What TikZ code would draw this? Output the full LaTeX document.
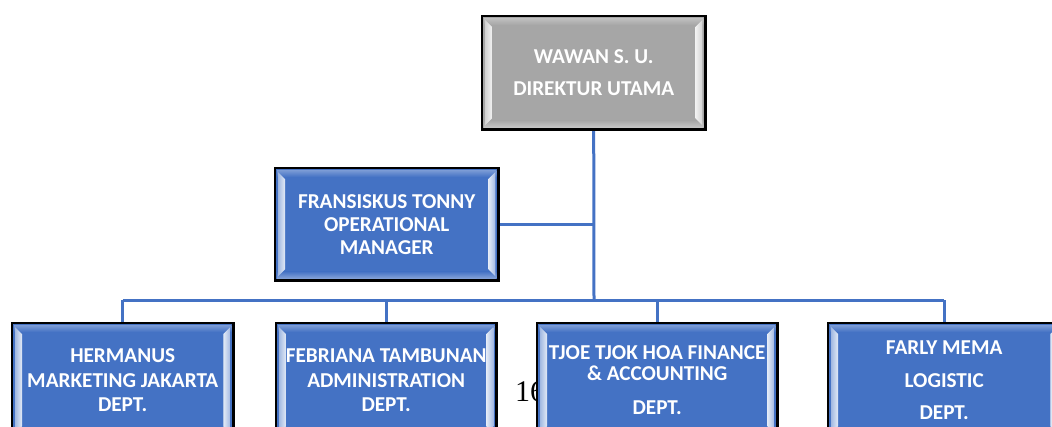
\documentclass[tikz,border=0pt]{standalone}
\usepackage{fontspec}
\setmainfont{Carlito}
\newfontfamily\pagefont{Liberation Serif}
\usetikzlibrary{calc}
\definecolor{boxblue}{RGB}{68,114,196}
\definecolor{boxgray}{RGB}{166,166,166}
\definecolor{linkblue}{RGB}{68,114,196}
\tikzset{
  orgbox/.style={anchor=north west, inner sep=0pt, draw=none, fill=#1},
  orglabel/.style={text=white, align=center, inner sep=0pt, font=\bfseries\fontsize{21.2}{23}\selectfont},
  conn/.style={draw=linkblue, line width=3pt},
  rim/.style={draw=black, line width=2.4pt}
}
\newcommand{\bevelfx}[2]{%
  \shade[top color=#2!70!white, bottom color=#2] ($(#1.north west)+(2,2)$) rectangle ($(#1.north east)+(-2,9)$);
  \shade[top color=#2, bottom color=#2!65!white] ($(#1.south west)+(2,-9)$) rectangle ($(#1.south east)+(-2,-2)$);
  \shade[left color=#2!50!white, right color=white!85!#2] ($(#1.north west)+(3,4)$) -- ($(#1.north west)+(10,11)$) -- ($(#1.south west)+(10,-11)$) -- ($(#1.south west)+(3,-4)$) -- cycle;
  \shade[left color=white!85!#2, right color=#2!50!white] ($(#1.north east)+(-3,4)$) -- ($(#1.north east)+(-10,11)$) -- ($(#1.south east)+(-10,-11)$) -- ($(#1.south east)+(-3,-4)$) -- cycle;
  \draw[rim] (#1.north west) rectangle (#1.south east);
}
\begin{document}
\begin{tikzpicture}[x=1pt,y=-1pt]
\useasboundingbox (0,0) rectangle (1052,426);
\clip (0,0) rectangle (1052,426);
% page number behind the box
\node[anchor=west, inner sep=0pt, font=\pagefont\fontsize{30}{30}\selectfont] (pagenum) at (515,392) {16};
% boxes
\node[orgbox=boxgray, minimum width=223pt, minimum height=113pt] (top) at (482,16) {};
\node[orgbox=boxblue, minimum width=223pt, minimum height=112pt] (ops) at (275,168) {};
\node[orgbox=boxblue, minimum width=221pt, minimum height=114pt] (herm) at (12,323) {};
\node[orgbox=boxblue, minimum width=220pt, minimum height=114pt] (febr) at (276,323) {};
\node[orgbox=boxblue, minimum width=240pt, minimum height=114pt] (tjoe) at (537,323) {};
\node[orgbox=boxblue, minimum width=232pt, minimum height=114pt] (farl) at (828,323) {};
% connectors
\coordinate (bus) at (594,300);
\draw[conn] (top.south) -- (bus);
\draw[conn] (ops.east) -- (ops.east -| top.south);
\draw[conn] (bus -| herm.north) -- (bus -| farl.north);
\draw[conn] (bus -| herm.north) -- (herm.north);
\draw[conn] (bus -| febr.north) -- (febr.north);
\draw[conn] (bus -| tjoe.north) -- (tjoe.north);
\draw[conn] (bus -| farl.north) -- (farl.north);
% bevels
\bevelfx{top}{boxgray}
\bevelfx{ops}{boxblue}
\bevelfx{herm}{boxblue}
\bevelfx{febr}{boxblue}
\bevelfx{tjoe}{boxblue}
\bevelfx{farl}{boxblue}
% labels
\node[orglabel] (top-t) at (top.center) {WAWAN S. U.\\[9pt]DIREKTUR UTAMA};
\node[orglabel] (ops-t) at (ops.center) {FRANSISKUS TONNY\\OPERATIONAL\\MANAGER};
\node[orglabel] (herm-t) at (herm.center) {HERMANUS\\[1.5pt]MARKETING JAKARTA\\[1.5pt]DEPT.};
\node[orglabel] (febr-t) at (febr.center) {FEBRIANA TAMBUNAN\\[1.5pt]ADMINISTRATION\\[1.5pt]DEPT.};
\node[orglabel] (tjoe-t) at (tjoe.center) {TJOE TJOK HOA FINANCE\\[-2pt]\&{} ACCOUNTING\\[11pt]DEPT.};
\node[orglabel] (farl-t) at (farl.center) {FARLY MEMA\\[9.5pt]LOGISTIC\\[9.5pt]DEPT.};
\end{tikzpicture}
\end{document}
